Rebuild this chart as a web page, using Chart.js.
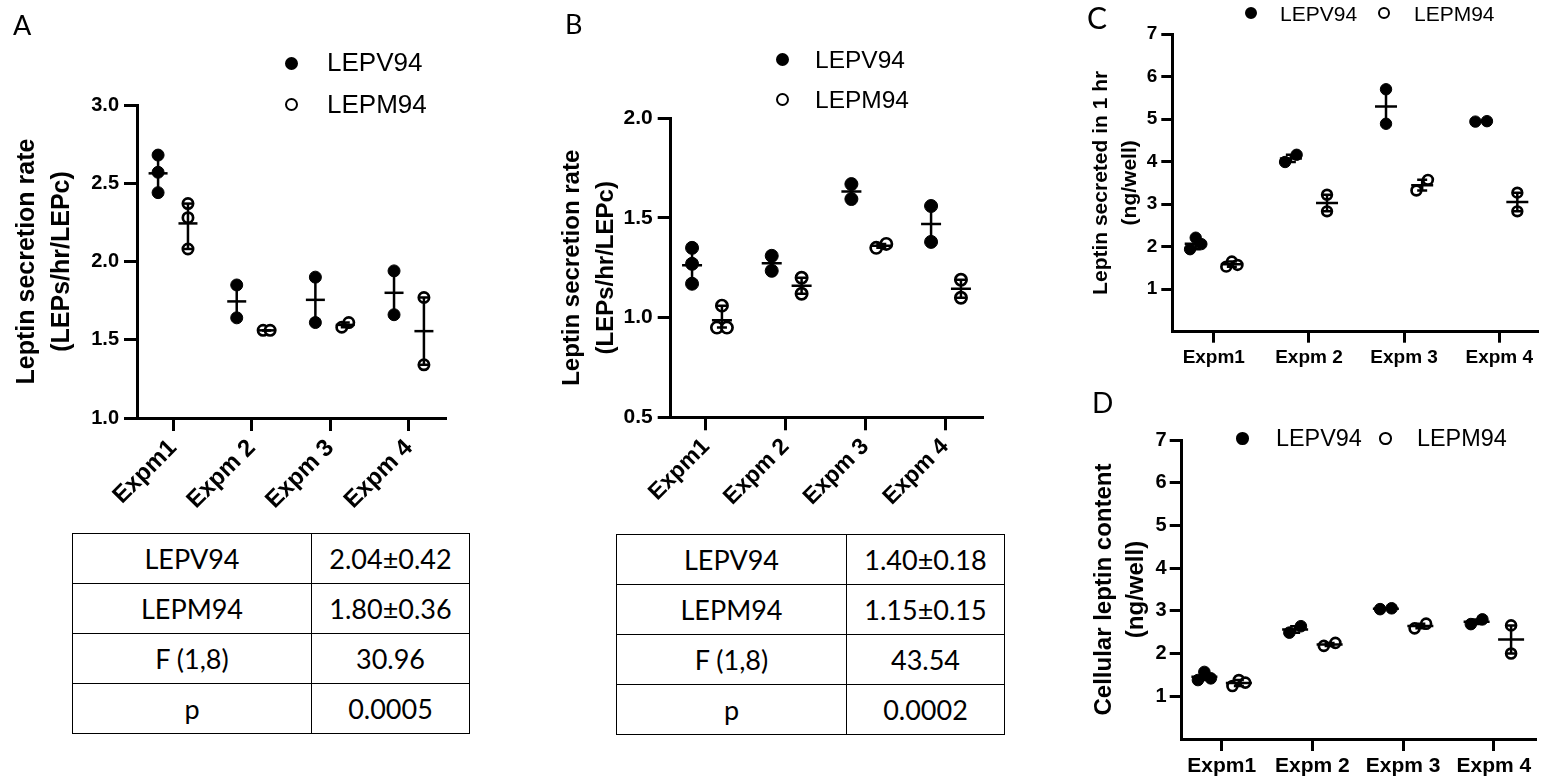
<!DOCTYPE html>
<html>
<head>
<meta charset="utf-8">
<script src="https://cdn.jsdelivr.net/npm/chart.js@4.4.0/dist/chart.umd.min.js"></script>
<style>
  body { margin: 0; background: #fff; }
  #fig { position: relative; width: 1551px; height: 781px; overflow: hidden; background: #fff; }
  canvas { position: absolute; }
  .lbl { position: absolute; font-family: Lato, "Open Sans", sans-serif; line-height: 1; color: #000; }
  .legtext { position: absolute; font-family: "Liberation Sans", Arial, sans-serif; color: #000; white-space: nowrap; }
  .dot { position: absolute; border-radius: 50%; box-sizing: border-box; border: 2.6px solid #000; background: #fff; }
  .dot.filled { background: #000; }
  table.stats { position: absolute; border-collapse: collapse; font-family: Lato, "Open Sans", sans-serif; color: #000; }
  table.stats td { border: 1.5px solid #000; text-align: center; padding: 0; }
</style>
</head>
<body>
<div id="fig">
  <canvas id="chartA"></canvas>
  <canvas id="chartB"></canvas>
  <canvas id="chartC"></canvas>
  <canvas id="chartD"></canvas>
</div>
<script>
const categories = ['Expm1', 'Expm 2', 'Expm 3', 'Expm 4'];
const seriesNames = ['LEPV94', 'LEPM94'];

// A: leptin secretion rate (LEPs/hr/LEPc), one inner array per experiment
const rateA_LEPV94 = [[2.68, 2.57, 2.44], [1.85, 1.64], [1.90, 1.61], [1.94, 1.66]];
const rateA_LEPM94 = [[2.37, 2.28, 2.08], [1.56, 1.56], [1.58, 1.61], [1.77, 1.34]];
// B: leptin secretion rate, second set
const rateB_LEPV94 = [[1.35, 1.27, 1.17], [1.31, 1.235], [1.67, 1.595], [1.56, 1.38]];
const rateB_LEPM94 = [[1.06, 0.95, 0.95], [1.20, 1.12], [1.35, 1.37], [1.19, 1.10]];
// C: leptin secreted in 1 hr (ng/well)
const secretedC_LEPV94 = [[1.94, 2.21, 2.06], [3.99, 4.16], [5.70, 4.89], [4.94, 4.95]];
const secretedC_LEPM94 = [[1.53, 1.65, 1.57], [3.22, 2.83], [3.32, 3.57], [3.27, 2.83]];
// D: cellular leptin content (ng/well)
const contentD_LEPV94 = [[1.38, 1.57, 1.42], [2.49, 2.64], [3.04, 3.06], [2.69, 2.80]];
const contentD_LEPM94 = [[1.24, 1.38, 1.32], [2.18, 2.25], [2.59, 2.70], [2.66, 2.00]];

const ticksA = [1.0, 1.5, 2.0, 2.5, 3.0];
const ticksB = [0.5, 1.0, 1.5, 2.0];
const ticksCD = [1, 2, 3, 4, 5, 6, 7];

const tableA = [['LEPV94', '2.04±0.42'], ['LEPM94', '1.80±0.36'], ['F (1,8)', '30.96'], ['p', '0.0005']];
const tableB = [['LEPV94', '1.40±0.18'], ['LEPM94', '1.15±0.15'], ['F (1,8)', '43.54'], ['p', '0.0002']];

const FONT = "'Liberation Sans', Arial, sans-serif";
const fig = document.getElementById('fig');

// points that would overlap get pushed sideways, like the prism scatter
function spreadGroup(values, center, p) {
  const yPx = (p.plot.bottom - p.plot.top) / (p.yMax - p.yMin);
  const xPx = (p.plot.right - p.plot.left) / (p.xMax - p.xMin);
  const idx = values.map((v, i) => i).sort((a, b) => values[a] - values[b]);
  const clusters = [];
  let cur = [idx[0]];
  for (let k = 1; k < idx.length; k++) {
    if ((values[idx[k]] - values[idx[k - 1]]) * yPx < 12) cur.push(idx[k]);
    else { clusters.push(cur); cur = [idx[k]]; }
  }
  clusters.push(cur);
  const xs = values.map(() => center);
  clusters.forEach(c => {
    c.sort((a, b) => a - b);
    const step = c.length === 2 ? p.step2 : p.step3;
    c.forEach((i, k) => { xs[i] = center + (k - (c.length - 1) / 2) * step / xPx; });
  });
  return xs;
}

function groupDatasets(groups, offset, p, filled) {
  const pts = [], range = [], means = [], caps = [];
  groups.forEach((vals, i) => {
    const cx = i + 1 + offset;
    const xs = spreadGroup(vals, cx, p);
    vals.forEach((v, j) => pts.push({ x: xs[j], y: v }));
    const lo = Math.min(...vals), hi = Math.max(...vals);
    const mean = vals.reduce((a, b) => a + b, 0) / vals.length;
    range.push({ x: cx, y: lo }, { x: cx, y: hi }, { x: cx, y: null });
    means.push({ x: cx, y: mean });
    caps.push({ x: cx, y: lo }, { x: cx, y: hi });
  });
  const r = p.dotR;
  return [
    { data: range, showLine: true, spanGaps: false, borderColor: '#000', borderWidth: 2.5, pointRadius: 0, order: 0 },
    { data: means, pointStyle: 'line', pointRadius: p.meanHalf, pointBorderColor: '#000', pointBorderWidth: 2.5, order: 0 },
    { data: caps, pointStyle: 'line', pointRadius: p.capHalf, pointBorderColor: '#000', pointBorderWidth: 2.5, order: 0 },
    filled
      ? { data: pts, pointStyle: 'circle', pointRadius: r - 0.5, pointBackgroundColor: '#000', pointBorderColor: '#000', pointBorderWidth: 1, order: 1 }
      : { data: pts, pointStyle: 'circle', pointRadius: r - 1.35, pointBackgroundColor: '#fff', pointBorderColor: '#000', pointBorderWidth: 2.7, order: 1 }
  ];
}

function makeChart(id, p) {
  const cv = document.getElementById(id);
  cv.width = p.canvas.width; cv.height = p.canvas.height;
  cv.style.left = p.canvas.left + 'px'; cv.style.top = p.canvas.top + 'px';
  const yWidth = p.plot.left - p.canvas.left;
  const xHeight = p.canvas.top + p.canvas.height - p.plot.bottom;
  const datasets = [
    ...groupDatasets(p.lepv, -p.offset[0], p, true),
    ...groupDatasets(p.lepm, p.offset[1], p, false)
  ];
  new Chart(cv, {
    type: 'scatter',
    data: { datasets },
    options: {
      responsive: false, animation: false, devicePixelRatio: 1, events: [],
      layout: { padding: { top: p.plot.top - p.canvas.top, right: p.canvas.left + p.canvas.width - p.plot.right, left: 0, bottom: 0 } },
      plugins: { legend: { display: false }, tooltip: { enabled: false } },
      scales: {
        x: {
          type: 'linear', min: p.xMin, max: p.xMax,
          afterBuildTicks: s => { s.ticks = categories.map((c, i) => ({ value: i + 1 })); },
          afterFit: s => { s.height = xHeight; },
          ticks: {
            callback: v => categories[Math.round(v) - 1], autoSkip: false,
            minRotation: p.xRot, maxRotation: p.xRot, color: '#000', padding: p.xPad,
            font: { family: FONT, size: p.xFont, weight: 'bold' }
          },
          grid: { display: true, drawOnChartArea: false, drawTicks: true, tickLength: p.tickLen, tickWidth: 3, tickColor: '#000', lineWidth: 3 },
          border: { display: true, width: 3, color: '#000' }
        },
        y: {
          type: 'linear', min: p.yMin, max: p.yMax,
          afterBuildTicks: s => { s.ticks = p.yTicks.map(v => ({ value: v })); },
          afterFit: s => { s.width = yWidth; },
          ticks: {
            callback: v => v.toFixed(p.yDec), color: '#000', padding: p.yPad,
            font: { family: FONT, size: p.yFont, weight: 'bold' }
          },
          grid: { display: true, drawOnChartArea: false, drawTicks: true, tickLength: p.tickLen, tickWidth: 3, tickColor: '#000', lineWidth: 3 },
          border: { display: true, width: 3, color: '#000' },
          title: {
            display: true, text: p.title, color: '#000',
            font: { family: FONT, size: p.titleFont, weight: 'bold', lineHeight: p.titleLH },
            padding: { top: p.titlePad, bottom: 0 }
          }
        }
      }
    }
  });
}

function addLabel(text, left, top, size) {
  const d = document.createElement('div');
  d.className = 'lbl';
  d.textContent = text;
  d.style.left = left + 'px'; d.style.top = top + 'px'; d.style.fontSize = size + 'px';
  fig.appendChild(d);
}

function addLegendItem(name, filled, cx, cy, dia, textLeft, size) {
  const dot = document.createElement('div');
  dot.className = 'dot' + (filled ? ' filled' : '');
  dot.style.width = dot.style.height = dia + 'px';
  dot.style.left = (cx - dia / 2) + 'px'; dot.style.top = (cy - dia / 2) + 'px';
  fig.appendChild(dot);
  const t = document.createElement('div');
  t.className = 'legtext';
  t.textContent = name;
  t.style.fontSize = size + 'px'; t.style.lineHeight = (size * 1.2) + 'px';
  t.style.left = textLeft + 'px'; t.style.top = (cy - size * 0.6) + 'px';
  fig.appendChild(t);
}

function addTable(rows, left, top, col1, col2, rowH, size) {
  const tb = document.createElement('table');
  tb.className = 'stats';
  tb.style.left = left + 'px'; tb.style.top = top + 'px'; tb.style.fontSize = size + 'px';
  rows.forEach(r => {
    const tr = document.createElement('tr');
    tr.style.height = rowH + 'px';
    r.forEach((c, i) => {
      const td = document.createElement('td');
      td.textContent = c;
      td.style.width = (i === 0 ? col1 : col2) + 'px';
      tr.appendChild(td);
    });
    tb.appendChild(tr);
  });
  fig.appendChild(tb);
}

makeChart('chartA', {
  canvas: { left: 0, top: 0, width: 480, height: 520 },
  plot: { left: 137, right: 445, top: 105, bottom: 418 },
  xMin: 0.542, xMax: 4.458, yMin: 1, yMax: 3, yTicks: ticksA, yDec: 1,
  lepv: rateA_LEPV94, lepm: rateA_LEPM94, offset: [0.19, 0.19],
  xRot: 45, xFont: 24, xPad: 3, yFont: 20, yPad: 5, tickLen: 13,
  title: ['Leptin secretion rate', '(LEPs/hr/LEPc)'], titleFont: 25, titleLH: 1.4, titlePad: 10,
  dotR: 6.5, meanHalf: 9.5, capHalf: 4.5, step2: 7, step3: 6
});

makeChart('chartB', {
  canvas: { left: 550, top: 0, width: 450, height: 520 },
  plot: { left: 670.7, right: 982.7, top: 118.3, bottom: 417.3 },
  xMin: 0.557, xMax: 4.473, yMin: 0.5, yMax: 2.0, yTicks: ticksB, yDec: 1,
  lepv: rateB_LEPV94, lepm: rateB_LEPM94, offset: [0.175, 0.2],
  xRot: 45, xFont: 23, xPad: 3, yFont: 21, yPad: 5, tickLen: 13,
  title: ['Leptin secretion rate', '(LEPs/hr/LEPc)'], titleFont: 24, titleLH: 1.45, titlePad: 4.5,
  dotR: 7, meanHalf: 10, capHalf: 5, step2: 10, step3: 6
});

makeChart('chartC', {
  canvas: { left: 1060, top: 0, width: 491, height: 390 },
  plot: { left: 1172.3, right: 1542, top: 34, bottom: 331.7 },
  xMin: 0.564, xMax: 4.402, yMin: 0, yMax: 7, yTicks: ticksCD, yDec: 0,
  lepv: secretedC_LEPV94, lepm: secretedC_LEPM94, offset: [0.19, 0.19],
  xRot: 0, xFont: 19, xPad: 4, yFont: 19, yPad: 4, tickLen: 11,
  title: ['Leptin secreted in 1 hr', '(ng/well)'], titleFont: 21, titleLH: 1.35, titlePad: 27.5,
  dotR: 6.2, meanHalf: 11, capHalf: 5, step2: 11.7, step3: 5.7
});

makeChart('chartD', {
  canvas: { left: 1060, top: 390, width: 491, height: 391 },
  plot: { left: 1181.7, right: 1550, top: 440, bottom: 739 },
  xMin: 0.56, xMax: 4.459, yMin: 0, yMax: 7, yTicks: ticksCD, yDec: 0,
  lepv: contentD_LEPV94, lepm: contentD_LEPM94, offset: [0.19, 0.19],
  xRot: 0, xFont: 21, xPad: 3, yFont: 20, yPad: 3, tickLen: 12,
  title: ['Cellular leptin content', '(ng/well)'], titleFont: 24, titleLH: 1.32, titlePad: 29,
  dotR: 6.3, meanHalf: 13, capHalf: 5, step2: 12, step3: 6.7
});

// panel letters
addLabel('A', 13, 11, 27);
addLabel('B', 565, 10, 27);
addLabel('C', 1087, 2, 30);
addLabel('D', 1092, 388, 28);

// legends
addLegendItem(seriesNames[0], true, 291, 63, 13, 327, 26);
addLegendItem(seriesNames[1], false, 291, 104.3, 13, 327, 26);
addLegendItem(seriesNames[0], true, 782.7, 59.3, 13, 815, 24.5);
addLegendItem(seriesNames[1], false, 782.7, 99.3, 13, 815, 24.5);
addLegendItem(seriesNames[0], true, 1250.7, 13.3, 12.3, 1280, 21);
addLegendItem(seriesNames[1], false, 1384.3, 13.3, 12.3, 1414, 21);
addLegendItem(seriesNames[0], true, 1242.7, 438.3, 12.7, 1276, 23.4);
addLegendItem(seriesNames[1], false, 1385.7, 438.3, 12.7, 1417, 23.4);

// summary tables under A and B
addTable(tableA, 72, 533, 238, 157, 50, 27);
addTable(tableB, 616, 534, 229, 157, 50, 27);
</script>
</body>
</html>
